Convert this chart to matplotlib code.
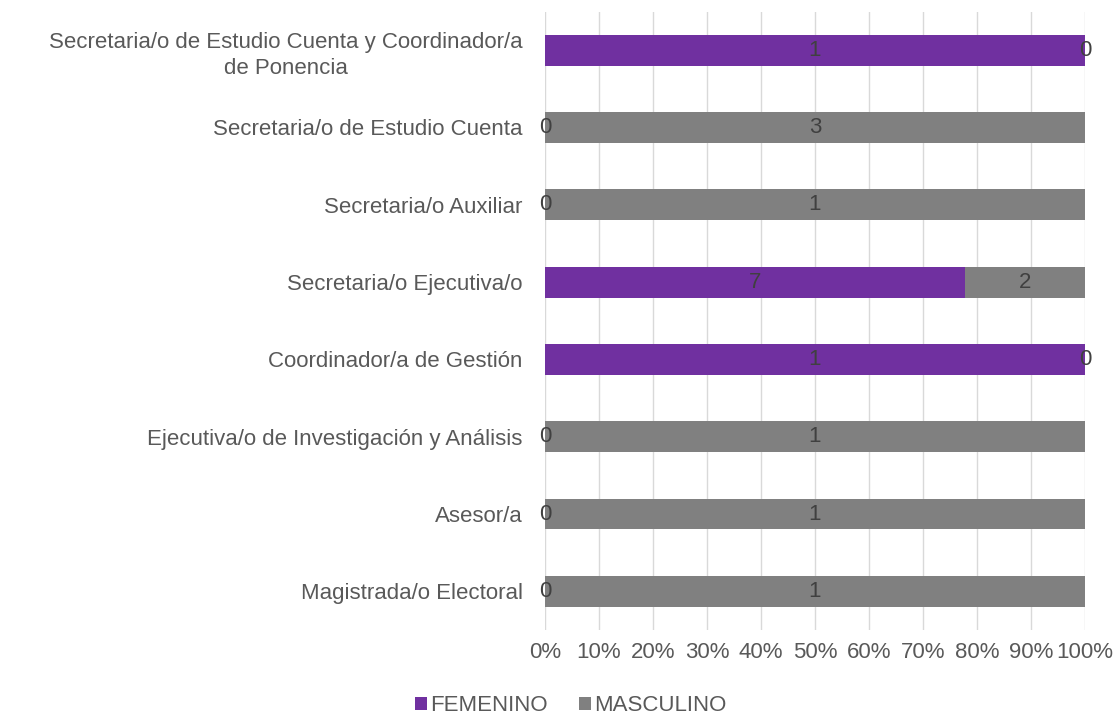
import matplotlib.pyplot as plt
import numpy as np

plt.rcParams['font.family'] = ['Liberation Sans', 'DejaVu Sans']

# Data (bottom to top, as drawn)
puestos = [
    "Magistrada/o Electoral",
    "Asesor/a",
    "Ejecutiva/o de Investigación y Análisis",
    "Coordinador/a de Gestión",
    "Secretaria/o Ejecutiva/o",
    "Secretaria/o Auxiliar",
    "Secretaria/o de Estudio Cuenta",
    "Secretaria/o de Estudio Cuenta y Coordinador/a\nde Ponencia",
]
femenino = [0, 0, 0, 1, 7, 0, 0, 1]
masculino = [1, 1, 1, 0, 2, 1, 3, 0]
x_ticks = [0, 10, 20, 30, 40, 50, 60, 70, 80, 90, 100]

purple = "#7030A0"
gray = "#808080"
text_col = "#595959"
label_col = "#404040"
fs = 16

fem = np.array(femenino, dtype=float)
mas = np.array(masculino, dtype=float)
total = fem + mas
fem_pct = fem / total * 100
mas_pct = mas / total * 100
y = np.arange(len(puestos))

fig = plt.figure(figsize=(11.19, 7.2), dpi=100)
ax = fig.add_axes([0.487, 0.125, 0.4826, 0.859])

ax.barh(y, fem_pct, height=0.4, color=purple, label="FEMENINO", zorder=2)
ax.barh(y, mas_pct, left=fem_pct, height=0.4, color=gray, label="MASCULINO", zorder=2)

# Data labels at centre of each segment
for i in range(len(puestos)):
    ax.text(fem_pct[i] / 2, y[i], str(femenino[i]), ha='center', va='center',
            fontsize=fs, color=label_col, zorder=3)
    ax.text(fem_pct[i] + mas_pct[i] / 2, y[i], str(masculino[i]), ha='center', va='center',
            fontsize=fs, color=label_col, zorder=3)

ax.set_xlim(0, 100)
ax.set_ylim(-0.5, len(puestos) - 0.5)
ax.set_xticks(x_ticks)
ax.set_xticklabels([f"{t}%" for t in x_ticks], fontsize=fs, color=text_col)
ax.set_yticks(y)
ax.set_yticklabels(puestos, fontsize=fs, color=text_col, linespacing=1.35)
ax.tick_params(axis='both', length=0)
ax.tick_params(axis='x', pad=9)
ax.tick_params(axis='y', pad=16)
for lbl in ax.get_yticklabels():
    lbl.set_horizontalalignment('right')
    lbl.set_multialignment('center')

ax.grid(axis='x', color='#D9D9D9', linewidth=1, zorder=0)
ax.set_axisbelow(True)
for s in ax.spines.values():
    s.set_visible(False)

fig.legend(loc='center', bbox_to_anchor=(0.51, 0.02), ncol=2, frameon=False,
           fontsize=fs, handlelength=0.55, handleheight=0.55, handletextpad=0.15,
           columnspacing=1.4, labelcolor=text_col)

fig.savefig("out.png", dpi=100)
